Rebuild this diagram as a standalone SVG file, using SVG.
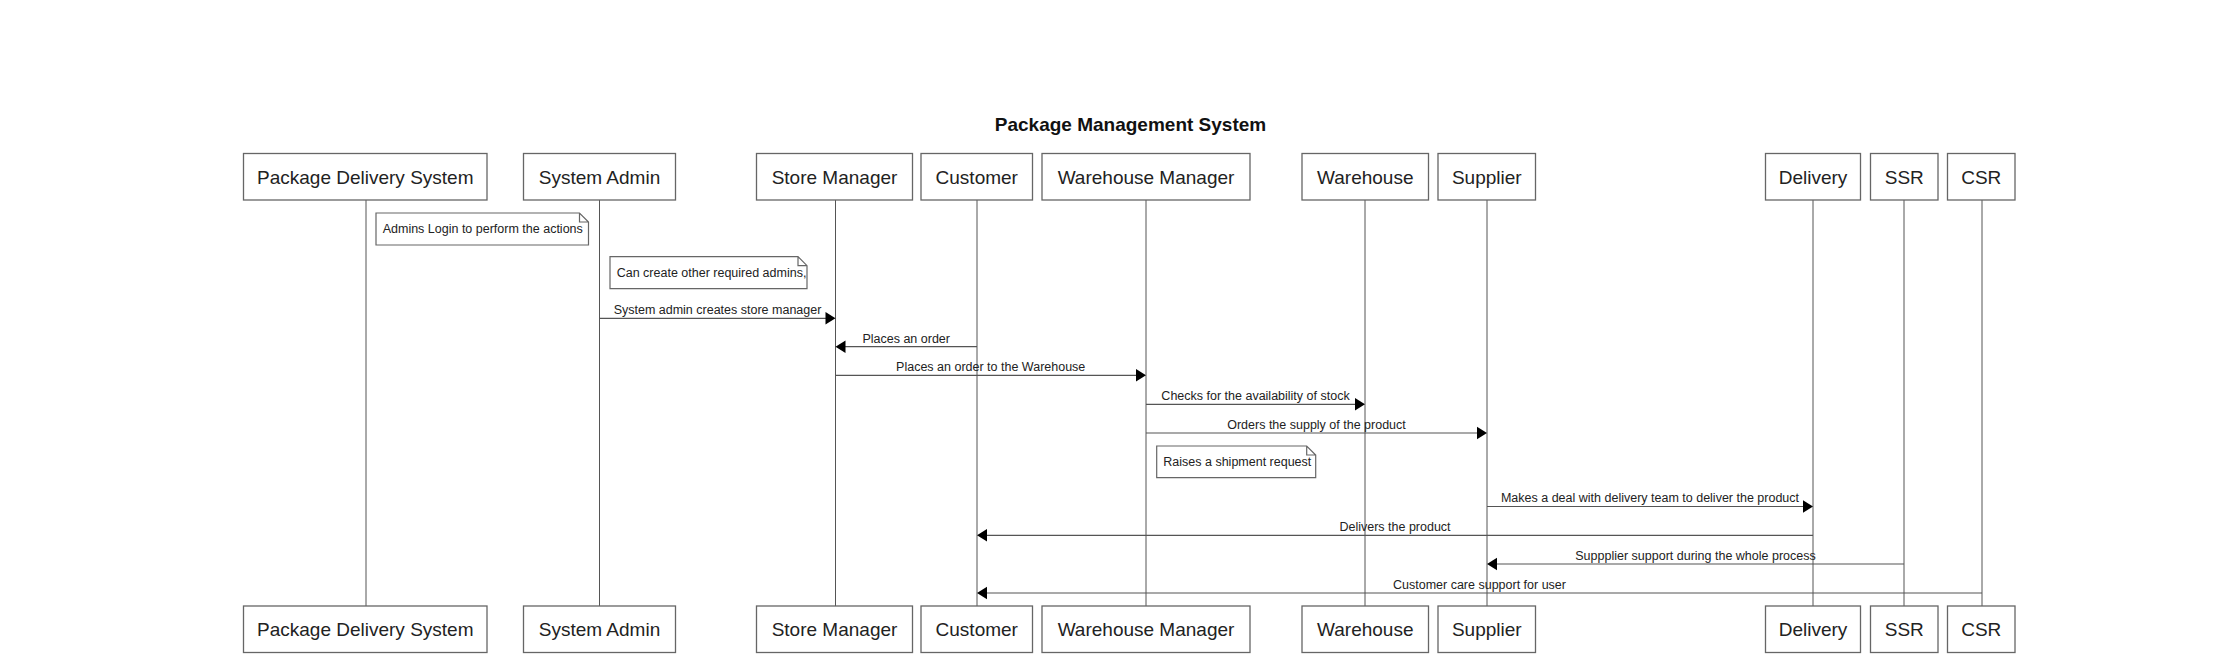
<svg xmlns="http://www.w3.org/2000/svg" width="2215" height="654" viewBox="0 0 2215 654">
<style>
.box{fill:#fff;stroke:#666;stroke-width:1.3}
.life{stroke:#555;stroke-width:1}
.pt{font-family:"Liberation Sans",Arial,sans-serif;font-size:19px;fill:#222;text-anchor:middle}
.title{font-family:"Liberation Sans",Arial,sans-serif;font-size:19px;font-weight:bold;fill:#111;text-anchor:middle}
.msg{stroke:#555;stroke-width:1.2;fill:none}
.ml{font-family:"Liberation Sans",Arial,sans-serif;font-size:12.5px;fill:#222;text-anchor:middle}
.note{fill:#fff;stroke:#666;stroke-width:1.2}
.nt{font-family:"Liberation Sans",Arial,sans-serif;font-size:12.5px;fill:#222}
.ah{fill:#000}
</style>
<rect width="2215" height="654" fill="#fff"/>
<text class="title" x="1130.5" y="130.5">Package Management System</text>

<g id="pds">
<line class="life" x1="366" y1="200" x2="366" y2="606"/>
<rect class="box" x="243.5" y="153.5" width="243.5" height="46.5"/>
<text class="pt" x="365.25" y="183.5">Package Delivery System</text>
<rect class="box" x="243.5" y="606" width="243.5" height="46.5"/>
<text class="pt" x="365.25" y="636">Package Delivery System</text>
</g>
<g id="sysadmin">
<line class="life" x1="599.5" y1="200" x2="599.5" y2="606"/>
<rect class="box" x="523.5" y="153.5" width="152" height="46.5"/>
<text class="pt" x="599.5" y="183.5">System Admin</text>
<rect class="box" x="523.5" y="606" width="152" height="46.5"/>
<text class="pt" x="599.5" y="636">System Admin</text>
</g>
<g id="storemanager">
<line class="life" x1="835.5" y1="200" x2="835.5" y2="606"/>
<rect class="box" x="756.5" y="153.5" width="156" height="46.5"/>
<text class="pt" x="834.5" y="183.5">Store Manager</text>
<rect class="box" x="756.5" y="606" width="156" height="46.5"/>
<text class="pt" x="834.5" y="636">Store Manager</text>
</g>
<g id="customer">
<line class="life" x1="977" y1="200" x2="977" y2="606"/>
<rect class="box" x="921" y="153.5" width="111.5" height="46.5"/>
<text class="pt" x="976.75" y="183.5">Customer</text>
<rect class="box" x="921" y="606" width="111.5" height="46.5"/>
<text class="pt" x="976.75" y="636">Customer</text>
</g>
<g id="warehousemanager">
<line class="life" x1="1146" y1="200" x2="1146" y2="606"/>
<rect class="box" x="1042" y="153.5" width="208" height="46.5"/>
<text class="pt" x="1146" y="183.5">Warehouse Manager</text>
<rect class="box" x="1042" y="606" width="208" height="46.5"/>
<text class="pt" x="1146" y="636">Warehouse Manager</text>
</g>
<g id="warehouse">
<line class="life" x1="1365" y1="200" x2="1365" y2="606"/>
<rect class="box" x="1302" y="153.5" width="126.5" height="46.5"/>
<text class="pt" x="1365.25" y="183.5">Warehouse</text>
<rect class="box" x="1302" y="606" width="126.5" height="46.5"/>
<text class="pt" x="1365.25" y="636">Warehouse</text>
</g>
<g id="supplier">
<line class="life" x1="1487" y1="200" x2="1487" y2="606"/>
<rect class="box" x="1438" y="153.5" width="97.5" height="46.5"/>
<text class="pt" x="1486.75" y="183.5">Supplier</text>
<rect class="box" x="1438" y="606" width="97.5" height="46.5"/>
<text class="pt" x="1486.75" y="636">Supplier</text>
</g>
<g id="delivery">
<line class="life" x1="1813" y1="200" x2="1813" y2="606"/>
<rect class="box" x="1765.5" y="153.5" width="95" height="46.5"/>
<text class="pt" x="1813" y="183.5">Delivery</text>
<rect class="box" x="1765.5" y="606" width="95" height="46.5"/>
<text class="pt" x="1813" y="636">Delivery</text>
</g>
<g id="ssr">
<line class="life" x1="1904" y1="200" x2="1904" y2="606"/>
<rect class="box" x="1870.5" y="153.5" width="67.5" height="46.5"/>
<text class="pt" x="1904.25" y="183.5">SSR</text>
<rect class="box" x="1870.5" y="606" width="67.5" height="46.5"/>
<text class="pt" x="1904.25" y="636">SSR</text>
</g>
<g id="csr">
<line class="life" x1="1982" y1="200" x2="1982" y2="606"/>
<rect class="box" x="1947.5" y="153.5" width="67.5" height="46.5"/>
<text class="pt" x="1981.25" y="183.5">CSR</text>
<rect class="box" x="1947.5" y="606" width="67.5" height="46.5"/>
<text class="pt" x="1981.25" y="636">CSR</text>
</g>

<g id="note-admins-login">
<path class="note" d="M376,213 H579.5 L588.5,222 V245 H376 Z M579.5,213 V222 H588.5"/>
<text class="nt" x="382.7" y="233.3">Admins Login to perform the actions</text>
</g>
<g id="note-create-admins">
<path class="note" d="M610,256.7 H798 L807,265.7 V288.7 H610 Z M798,256.7 V265.7 H807"/>
<text class="nt" x="616.7" y="276.7">Can create other required admins,</text>
</g>
<g id="note-shipment">
<path class="note" d="M1156.7,446 H1306.7 L1315.7,455 V477.7 H1156.7 Z M1306.7,446 V455 H1315.7"/>
<text class="nt" x="1163.3" y="466">Raises a shipment request</text>
</g>

<g id="connectors">
<line class="msg" x1="599.5" y1="318.3" x2="828" y2="318.3"/>
<polygon class="ah" points="835.5,318.3 825.5,312 825.5,324.6"/>
<text class="ml" x="717.5" y="314">System admin creates store manager</text>

<line class="msg" x1="977" y1="346.7" x2="843" y2="346.7"/>
<polygon class="ah" points="835.5,346.7 845.5,340.4 845.5,353"/>
<text class="ml" x="906.2" y="342.5">Places an order</text>

<line class="msg" x1="835.5" y1="375.3" x2="1138" y2="375.3"/>
<polygon class="ah" points="1146,375.3 1136,369 1136,381.6"/>
<text class="ml" x="990.7" y="371">Places an order to the Warehouse</text>

<line class="msg" x1="1146" y1="404.3" x2="1357" y2="404.3"/>
<polygon class="ah" points="1365,404.3 1355,398 1355,410.6"/>
<text class="ml" x="1255.5" y="400">Checks for the availability of stock</text>

<line class="msg" x1="1146" y1="433" x2="1479" y2="433"/>
<polygon class="ah" points="1487,433 1477,426.7 1477,439.3"/>
<text class="ml" x="1316.5" y="428.7">Orders the supply of the product</text>

<line class="msg" x1="1487" y1="506.5" x2="1805" y2="506.5"/>
<polygon class="ah" points="1813,506.5 1803,500.2 1803,512.8"/>
<text class="ml" x="1650" y="502.3">Makes a deal with delivery team to deliver the product</text>

<line class="msg" x1="1813" y1="535.3" x2="985" y2="535.3"/>
<polygon class="ah" points="977,535.3 987,529 987,541.6"/>
<text class="ml" x="1395" y="531">Delivers the product</text>

<line class="msg" x1="1904" y1="564" x2="1495" y2="564"/>
<polygon class="ah" points="1487,564 1497,557.7 1497,570.3"/>
<text class="ml" x="1695.5" y="559.8">Suppplier support during the whole process</text>

<line class="msg" x1="1982" y1="593" x2="985" y2="593"/>
<polygon class="ah" points="977,593 987,586.7 987,599.3"/>
<text class="ml" x="1479.5" y="588.8">Customer care support for user</text>
</g>
</svg>
